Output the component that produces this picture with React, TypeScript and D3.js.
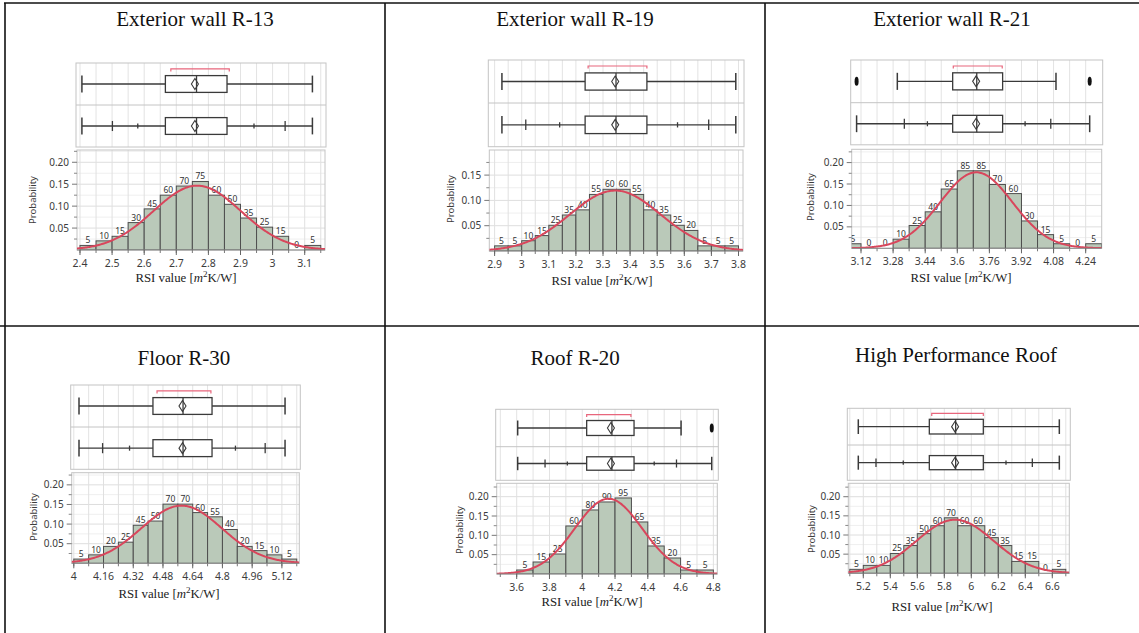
import React from "react";
import * as d3 from "d3";

// ---------- DATA ----------
const panelTitles = [
  "Exterior wall R-13",
  "Exterior wall R-19",
  "Exterior wall R-21",
  "Floor R-30",
  "Roof R-20",
  "High Performance Roof",
];

const binStarts = [2.4, 2.9, 3.04, 4.0, 3.6, 5.1];
const binWidths = [0.05, 0.05, 0.08, 0.08, 0.1, 0.1];

const countsR13 = [5, 10, 15, 30, 45, 60, 70, 75, 60, 50, 35, 25, 15, 0, 5];
const countsR19 = [5, 5, 10, 15, 25, 35, 40, 55, 60, 60, 55, 40, 35, 25, 20, 5, 5, 5];
const countsR21 = [5, 0, 0, 10, 25, 40, 65, 85, 85, 70, 60, 30, 15, 5, 0, 5];
const countsFloor = [5, 10, 20, 25, 45, 50, 70, 70, 60, 55, 40, 20, 15, 10, 5];
const countsRoof = [5, 15, 25, 60, 80, 90, 95, 65, 35, 20, 5, 5];
const countsHPRoof = [5, 10, 10, 25, 35, 50, 60, 70, 60, 60, 45, 35, 15, 15, 0, 5];
const panelCounts = [countsR13, countsR19, countsR21, countsFloor, countsRoof, countsHPRoof];

const sampleSizes = [480, 492, 470, 464, 483, 483];

const fitMeans = [2.765, 3.345, 3.695, 4.58, 4.16, 5.88];
const fitSigmas = [0.136, 0.167, 0.18, 0.217, 0.205, 0.285];

const xTickLabels = [
  ["2.4", "2.5", "2.6", "2.7", "2.8", "2.9", "3", "3.1"],
  ["2.9", "3", "3.1", "3.2", "3.3", "3.4", "3.5", "3.6", "3.7", "3.8"],
  ["3.12", "3.28", "3.44", "3.6", "3.76", "3.92", "4.08", "4.24"],
  ["4", "4.16", "4.32", "4.48", "4.64", "4.8", "4.96", "5.12"],
  ["3.6", "3.8", "4", "4.2", "4.4", "4.6", "4.8"],
  ["5.2", "5.4", "5.6", "5.8", "6", "6.2", "6.4", "6.6"],
];
const yTickLabels = [
  ["0.05", "0.10", "0.15", "0.20"],
  ["0.05", "0.10", "0.15"],
  ["0.05", "0.10", "0.15", "0.20"],
  ["0.05", "0.10", "0.15", "0.20"],
  ["0.05", "0.10", "0.15", "0.20"],
  ["0.05", "0.10", "0.15", "0.20"],
];

// outlier box plot: [lower whisker, Q1, median, Q3, upper whisker]
const outlierBoxes = [
  [2.406, 2.666, 2.763, 2.858, 3.124],
  [2.927, 3.234, 3.348, 3.462, 3.79],
  [3.301, 3.577, 3.697, 3.826, 4.092],
  [4.028, 4.426, 4.588, 4.744, 5.137],
  [3.606, 4.027, 4.181, 4.316, 4.603],
  [5.163, 5.689, 5.884, 6.089, 6.652],
];
const sampleMeans = [2.758, 3.345, 3.694, 4.585, 4.175, 5.88];
const shortestHalf = [
  [2.683, 2.865],
  [3.245, 3.462],
  [3.58, 3.824],
  [4.448, 4.738],
  [4.027, 4.297],
  [5.707, 6.089],
];
const outlierPoints = [[], [], [3.098, 4.26], [], [4.79], []];
// quantile box plot: [min, 2.5%, 10%, Q1, median, Q3, 90%, 97.5%, max]
const quantileBoxes = [
  [2.406, 2.501, 2.58, 2.666, 2.763, 2.858, 2.942, 3.039, 3.124],
  [2.927, 3.015, 3.14, 3.234, 3.348, 3.462, 3.575, 3.69, 3.79],
  [3.098, 3.336, 3.451, 3.577, 3.697, 3.826, 3.938, 4.066, 4.26],
  [4.028, 4.155, 4.3, 4.426, 4.588, 4.744, 4.87, 5.03, 5.137],
  [3.606, 3.773, 3.909, 4.027, 4.181, 4.316, 4.439, 4.575, 4.79],
  [5.163, 5.294, 5.496, 5.689, 5.884, 6.089, 6.257, 6.452, 6.652],
];

// ---------- LAYOUT ----------
const xDomains = [
  [2.3907, 3.1632],
  [2.8804, 3.8166],
  [3.0736, 4.3199],
  [3.9887, 5.2137],
  [3.478, 4.824],
  [5.0889, 6.7259],
];
const yMaxes = [0.228, 0.1996, 0.231, 0.231, 0.2346, 0.235];

type Layout = {
  px: [number, number];
  py: [number, number];
  box: [number, number, number];
  title: [number, number];
  yLab: [number, number];
  xTitle: [number, number];
};
const layouts: Layout[] = [
  { px: [77, 325], py: [250, 150], box: [63, 105, 147], title: [195, 26], yLab: [33, 200], xTitle: [186, 282] },
  { px: [489.3, 743], py: [251, 150], box: [60, 103, 146.7], title: [575, 26], yLab: [451, 199], xTitle: [602, 285] },
  { px: [851.7, 1101.7], py: [248.3, 149.3], box: [60, 102.7, 144.8], title: [952, 26], yLab: [811, 197], xTitle: [961, 282] },
  { px: [71.7, 299.3], py: [563.3, 472.7], box: [385, 427, 469.3], title: [184, 365], yLab: [34, 517], xTitle: [169, 598] },
  { px: [496.7, 717.3], py: [574, 483.3], box: [409.3, 446.7, 480.3], title: [575, 365], yLab: [460, 530], xTitle: [592, 606] },
  { px: [848.3, 1069.3], py: [573.3, 483.3], box: [408.3, 445, 480.3], title: [956, 362], yLab: [812, 529], xTitle: [942, 611] },
];

const SANS = "'Noto Sans', 'Open Sans', sans-serif";
const SERIF = "'Liberation Serif', 'DejaVu Serif', serif";
const BOX = "#3a3a3a";
const RED = "#d9465c";
const BRACKET = "#e8667c";

function Panel({ i }: { i: number }) {
  const L = layouts[i];
  const x = d3.scaleLinear().domain(xDomains[i]).range(L.px);
  const y = d3.scaleLinear().domain([0, yMaxes[i]]).range(L.py);
  const [x0, x1] = L.px;
  const [yb, yt] = L.py;
  const bw = binWidths[i];
  const N = sampleSizes[i];
  const bins = panelCounts[i].map((c, k) => ({
    a: binStarts[i] + k * bw,
    b: binStarts[i] + (k + 1) * bw,
    c,
    p: c / N,
  }));
  const kS = Math.ceil((xDomains[i][0] - binStarts[i]) / bw - 1e-6);
  const kE = Math.floor((xDomains[i][1] - binStarts[i]) / bw + 1e-6);
  const gridX = d3.range(kS, kE + 1).map((k) => binStarts[i] + k * bw);
  const xTickVals = xTickLabels[i].map((s) => +s);
  const yTickVals = yTickLabels[i].map((s) => +s);
  const yMinor = d3.range(0.025, yMaxes[i], 0.05);

  const mu = fitMeans[i];
  const sd = fitSigmas[i];
  const pdf = (v: number) => (Math.exp(-0.5 * ((v - mu) / sd) ** 2) / (sd * Math.sqrt(2 * Math.PI))) * bw;
  const samples = d3.range(0, 241).map((k) => xDomains[i][0] + ((xDomains[i][1] - xDomains[i][0]) * k) / 240);
  const line = d3
    .line<number>()
    .x((v) => x(v))
    .y((v) => y(pdf(v)));

  const [bTop, bMid, bBot] = L.box;
  const r1 = (bTop + bMid) / 2;
  const r2 = (bMid + bBot) / 2;
  const h1 = (bMid - bTop) * 0.2;
  const h2 = (bBot - bMid) * 0.2;
  const bracketY = bTop + (bMid - bTop) * 0.14;
  const [wlo, q1, med, q3, whi] = outlierBoxes[i];
  const qb = quantileBoxes[i];
  const mean = sampleMeans[i];
  const [sa, sb] = shortestHalf[i];

  const diamond = (cx: number, cy: number) =>
    `M${cx},${cy - 5.5}L${cx + 3.5},${cy}L${cx},${cy + 5.5}L${cx - 3.5},${cy}Z`;
  const clipId = `clip${i}`;

  return (
    <g>
      <text x={L.title[0]} y={L.title[1]} textAnchor="middle" fontFamily={SERIF} fontSize={21} fill="#111">
        {panelTitles[i]}
      </text>

      {/* box plot area */}
      <rect x={x0 - 1} y={bTop} width={x1 - x0 + 2} height={bBot - bTop} fill="#fff" stroke="none" />
      {gridX.map((v, k) => (
        <line key={"bg" + k} x1={x(v)} x2={x(v)} y1={bTop} y2={bBot} stroke="#e3e3e3" strokeWidth={1} />
      ))}
      <rect x={x0 - 1} y={bTop} width={x1 - x0 + 2} height={bBot - bTop} fill="none" stroke="#c4c4c4" strokeWidth={1} />
      <line x1={x0 - 1} x2={x1 + 1} y1={bMid} y2={bMid} stroke="#c4c4c4" strokeWidth={1} />

      {/* row 1: outlier box plot */}
      <path
        d={`M${x(sa)},${bracketY + 2.5}V${bracketY}H${x(sb)}V${bracketY + 2.5}`}
        fill="none"
        stroke={BRACKET}
        strokeWidth={1.2}
      />
      <line x1={x(wlo)} x2={x(q1)} y1={r1} y2={r1} stroke={BOX} strokeWidth={1.3} />
      <line x1={x(q3)} x2={x(whi)} y1={r1} y2={r1} stroke={BOX} strokeWidth={1.3} />
      <line x1={x(wlo)} x2={x(wlo)} y1={r1 - h1} y2={r1 + h1} stroke={BOX} strokeWidth={1.5} />
      <line x1={x(whi)} x2={x(whi)} y1={r1 - h1} y2={r1 + h1} stroke={BOX} strokeWidth={1.5} />
      <rect x={x(q1)} y={r1 - h1} width={x(q3) - x(q1)} height={2 * h1} fill="#fff" stroke={BOX} strokeWidth={1.3} />
      <line x1={x(med)} x2={x(med)} y1={r1 - h1} y2={r1 + h1} stroke={BOX} strokeWidth={1.3} />
      <path d={diamond(x(mean), r1)} fill="none" stroke={BOX} strokeWidth={1.1} />
      {outlierPoints[i].map((v, k) => (
        <ellipse key={"o" + k} cx={x(v)} cy={r1} rx={2} ry={4.5} fill="#111" />
      ))}

      {/* row 2: quantile box plot */}
      <line x1={x(qb[0])} x2={x(qb[3])} y1={r2} y2={r2} stroke={BOX} strokeWidth={1.3} />
      <line x1={x(qb[5])} x2={x(qb[8])} y1={r2} y2={r2} stroke={BOX} strokeWidth={1.3} />
      {[qb[0], qb[8]].map((v, k) => (
        <line key={"e" + k} x1={x(v)} x2={x(v)} y1={r2 - h2} y2={r2 + h2} stroke={BOX} strokeWidth={1.5} />
      ))}
      {[qb[1], qb[7]].map((v, k) => (
        <line key={"m" + k} x1={x(v)} x2={x(v)} y1={r2 - h2 * 0.6} y2={r2 + h2 * 0.6} stroke={BOX} strokeWidth={1.3} />
      ))}
      {[qb[2], qb[6]].map((v, k) => (
        <line key={"s" + k} x1={x(v)} x2={x(v)} y1={r2 - h2 * 0.3} y2={r2 + h2 * 0.3} stroke={BOX} strokeWidth={1.3} />
      ))}
      <rect x={x(qb[3])} y={r2 - h2} width={x(qb[5]) - x(qb[3])} height={2 * h2} fill="#fff" stroke={BOX} strokeWidth={1.3} />
      <line x1={x(qb[4])} x2={x(qb[4])} y1={r2 - h2} y2={r2 + h2} stroke={BOX} strokeWidth={1.3} />
      <path d={diamond(x(mean), r2)} fill="none" stroke={BOX} strokeWidth={1.1} />

      {/* histogram area */}
      <defs>
        <clipPath id={clipId}>
          <rect x={x0} y={yt} width={x1 - x0} height={yb - yt} />
        </clipPath>
      </defs>
      {yMinor.map((v, k) => (
        <line key={"ym" + k} x1={x0} x2={x1} y1={y(v)} y2={y(v)} stroke="#efefef" strokeWidth={1} />
      ))}
      {yTickVals.map((v, k) => (
        <line key={"yg" + k} x1={x0} x2={x1} y1={y(v)} y2={y(v)} stroke="#dedede" strokeWidth={1} />
      ))}
      {gridX.map((v, k) => (
        <line key={"xg" + k} x1={x(v)} x2={x(v)} y1={yt} y2={yb} stroke="#e0e0e0" strokeWidth={1} />
      ))}
      <rect x={x0} y={yt} width={x1 - x0} height={yb - yt} fill="none" stroke="#c4c4c4" strokeWidth={1} />
      <g clipPath={`url(#${clipId})`}>
        {bins.map((d, k) =>
          d.c > 0 ? (
            <rect
              key={"b" + k}
              x={x(d.a)}
              y={y(d.p)}
              width={x(d.b) - x(d.a)}
              height={yb - y(d.p)}
              fill="#bac9b9"
              stroke="#4e4e4e"
              strokeWidth={1}
            />
          ) : null
        )}
        {bins.map((d, k) => (
          <text
            key={"l" + k}
            x={(x(d.a) + x(d.b)) / 2}
            y={y(d.p) - 2}
            textAnchor="middle"
            fontFamily={SANS}
            fontSize={8.5}
            fill="#333"
          >
            {d.c}
          </text>
        ))}
        <path d={line(samples) || ""} fill="none" stroke={RED} strokeWidth={2} />
      </g>
      <line x1={x0} x2={x1} y1={yb} y2={yb} stroke="#8a8a8a" strokeWidth={1} />

      {/* y axis */}
      {yMinor.map((v, k) => (
        <line key={"ymt" + k} x1={x0 - 3} x2={x0} y1={y(v)} y2={y(v)} stroke="#888" strokeWidth={1} />
      ))}
      {yTickVals.map((v, k) => (
        <g key={"yt" + k}>
          <line x1={x0 - 5} x2={x0} y1={y(v)} y2={y(v)} stroke="#777" strokeWidth={1} />
          <text x={x0 - 8} y={y(v)} dy="0.35em" textAnchor="end" fontFamily={SANS} fontSize={10} fill="#3c3c3c">
            {yTickLabels[i][k]}
          </text>
        </g>
      ))}
      <text
        transform={`translate(${L.yLab[0]},${L.yLab[1]}) rotate(-90)`}
        textAnchor="middle"
        dy="0.35em"
        fontFamily={SANS}
        fontSize={9.5}
        fill="#3c3c3c"
      >
        Probability
      </text>

      {/* x axis */}
      {gridX.map((v, k) => (
        <line key={"xt" + k} x1={x(v)} x2={x(v)} y1={yb} y2={yb + 3} stroke="#777" strokeWidth={1} />
      ))}
      {xTickVals.map((v, k) => (
        <g key={"xl" + k}>
          <line x1={x(v)} x2={x(v)} y1={yb} y2={yb + 5} stroke="#666" strokeWidth={1} />
          <text x={x(v)} y={yb + 16.5} textAnchor="middle" fontFamily={SANS} fontSize={10.5} fill="#3c3c3c">
            {xTickLabels[i][k]}
          </text>
        </g>
      ))}
      <text x={L.xTitle[0]} y={L.xTitle[1]} textAnchor="middle" fontFamily={SERIF} fontSize={12.8} fill="#222">
        <tspan>RSI value [</tspan>
        <tspan fontStyle="italic">m</tspan>
        <tspan fontSize={9} dy={-5}>
          2
        </tspan>
        <tspan dy={5}>K/W]</tspan>
      </text>
    </g>
  );
}

export default function App() {
  const W = 1139;
  const H = 633;
  return (
    <svg
      width={W}
      height={H}
      viewBox={`0 0 ${W} ${H}`}
      style={{ position: "absolute", left: 0, top: 0, background: "#fff" }}
    >
      <rect x={0} y={0} width={W} height={H} fill="#fff" />
      {panelTitles.map((_, i) => (
        <Panel key={i} i={i} />
      ))}
      {/* table borders */}
      <line x1={4} x2={W} y1={3} y2={3} stroke="#111" strokeWidth={1.6} />
      <line x1={0} x2={W} y1={326} y2={326} stroke="#111" strokeWidth={1.6} />
      <line x1={5} x2={5} y1={3} y2={H} stroke="#111" strokeWidth={1.6} />
      <line x1={385} x2={385} y1={3} y2={H} stroke="#111" strokeWidth={1.6} />
      <line x1={765} x2={765} y1={3} y2={H} stroke="#111" strokeWidth={1.6} />
    </svg>
  );
}
